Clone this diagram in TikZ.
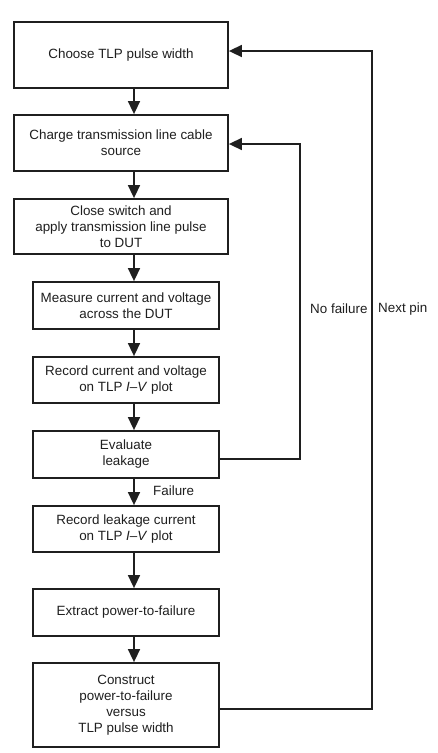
\documentclass[tikz,border=0pt]{standalone}
\usepackage{fontspec}
\setmainfont{Liberation Sans}
\usetikzlibrary{arrows.meta}
\begin{document}
\begin{tikzpicture}[x=1pt,y=-1pt,
  box/.style={draw=black!88,line width=1.8pt,rectangle,inner sep=0pt,align=center,
    font=\fontsize{13.4}{16}\selectfont,text=black!88},
  arr/.style={draw=black!88,line width=1.6pt,-{Triangle[length=13pt,width=12pt]}},
  lbl/.style={font=\fontsize{13.4}{16}\selectfont,text=black!88,inner sep=0pt}]
\useasboundingbox (0,0) rectangle (437,753);
\fill[white] (0,0) rectangle (437,753);
\node[box,minimum width=214pt,minimum height=66pt] (b1) at (121,55) {Choose TLP pulse width};
\node[box,minimum width=214pt,minimum height=56pt] (b2) at (121,143) {Charge transmission line cable\\source};
\node[box,minimum width=214pt,minimum height=55pt] (b3) at (121,226.5) {Close switch and\\apply transmission line pulse\\to DUT};
\node[box,minimum width=186pt,minimum height=47pt] (b4) at (126,305.5) {Measure current and voltage\\across the DUT};
\node[box,minimum width=186pt,minimum height=46pt] (b5) at (126,380) {Record current and voltage\\on TLP \textit{I}–\textit{V} plot};
\node[box,minimum width=186pt,minimum height=47pt] (b6) at (126,454.5) {Evaluate\\leakage};
\node[box,minimum width=186pt,minimum height=46pt] (b7) at (126,529) {Record leakage current\\on TLP \textit{I}–\textit{V} plot};
\node[box,minimum width=186pt,minimum height=47pt] (b8) at (126,612.5) {Extract power-to-failure};
\node[box,minimum width=186pt,minimum height=84pt] (b9) at (126,705) {Construct\\power-to-failure\\versus\\TLP pulse width};
\coordinate (ax) at (134,0);
\draw[arr] (b1.south -| ax) -- (b2.north -| ax);
\draw[arr] (b2.south -| ax) -- (b3.north -| ax);
\draw[arr] (b3.south -| ax) -- (b4.north -| ax);
\draw[arr] (b4.south -| ax) -- (b5.north -| ax);
\draw[arr] (b5.south -| ax) -- (b6.north -| ax);
\draw[arr] (b6.south -| ax) -- (b7.north -| ax);
\draw[arr] (b7.south -| ax) -- (b8.north -| ax);
\draw[arr] (b8.south -| ax) -- (b9.north -| ax);
\coordinate (nf1) at (300,459);
\coordinate (nf2) at (300,144);
\coordinate (np1) at (372,709);
\coordinate (np2) at (372,51);
\draw[arr] (b6.east |- nf1) -- (nf1) -- (nf2) -- (b2.east |- nf2);
\draw[arr] (b9.east |- np1) -- (np1) -- (np2) -- (b1.east |- np2);
\node[lbl,anchor=west] (lnf) at (310,309) {No failure};
\node[lbl,anchor=west] (lnp) at (378,309) {Next pin};
\node[lbl,anchor=west] (lf) at (153,491) {Failure};
\end{tikzpicture}
\end{document}
